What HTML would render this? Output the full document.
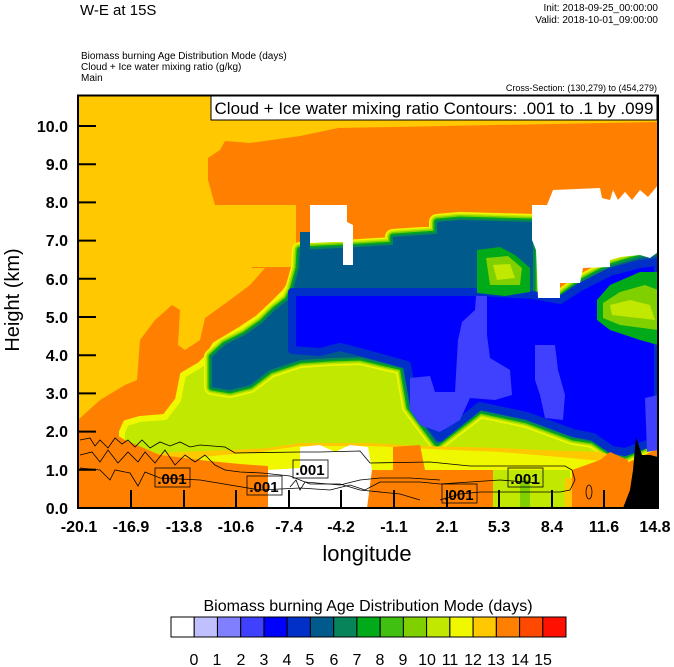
<!DOCTYPE html>
<html><head><meta charset="utf-8"><style>
html,body{margin:0;padding:0;background:#fff;width:674px;height:667px;overflow:hidden}
svg{display:block}
text{font-family:"Liberation Sans",sans-serif}
</style></head><body>
<svg width="674" height="667" viewBox="0 0 674 667">
<text x="80" y="15" font-size="15">W-E at 15S</text>
<text x="658" y="11" font-size="10" text-anchor="end">Init: 2018-09-25_00:00:00</text>
<text x="658" y="23" font-size="10" text-anchor="end">Valid: 2018-10-01_09:00:00</text>
<text x="81" y="59" font-size="10">Biomass burning Age Distribution Mode   (days)</text>
<text x="81" y="70" font-size="10">Cloud + Ice water mixing ratio   (g/kg)</text>
<text x="81" y="81" font-size="10">Main</text>
<text x="657" y="91" font-size="9" text-anchor="end">Cross-Section: (130,279) to (454,279)</text>

<defs>
<clipPath id="pc"><rect x="78" y="95" width="580" height="413"/></clipPath>
<polygon id="T" points="212,387 212,357 225,345 245,335 262,323 275,310 288,300 293,290 299,268 300,250 360,247 393,245 393,237 437,234 437,222 460,220 533,222 533,300 560,298 580,283 610,267 640,258 658,255 658,440 625,455 612,453 593,440 573,437 527,420 480,410 437,443 410,407 403,367 360,357 330,358 300,360 270,370 250,385 230,390"/>
</defs>
<g clip-path="url(#pc)">
<rect x="78" y="95" width="580" height="413" fill="#ffc800"/>
<!-- orange -->
<polygon fill="#ff8000" points="338,128 658,122 658,508 78,508 78,420 100,400 125,385 137,380 140,340 155,320 172,305 180,310 178,345 185,350 200,340 205,318 230,300 250,285 265,268 238,268 238,205 215,205 208,180 208,158 220,150 225,141 250,143 300,136"/>
<polygon fill="#ffc800" points="207,220 238,220 238,205 296,205 296,267 252,267 245,280 225,290 207,290"/>
<!-- lime region -->
<polygon fill="#c0e800" stroke="#f0f800" stroke-width="6" stroke-linejoin="round" points="122,432 126,423 140,419 165,417 178,400 183,375 200,365 208,357 215,345 240,330 258,318 272,305 285,292 293,280 298,267 300,300 640,300 645,445 625,458 600,468 122,468"/>
<!-- teal complex with bands -->
<g stroke-linejoin="round" fill="none">
<use href="#T" stroke="#f0f800" stroke-width="16"/>
<use href="#T" stroke="#c0e800" stroke-width="13"/>
<use href="#T" stroke="#80d000" stroke-width="10"/>
<use href="#T" stroke="#00aa18" stroke-width="7"/>
<use href="#T" stroke="#08845a" stroke-width="4"/>
<use href="#T" fill="#005a8c"/>
</g>
<polygon fill="#005a8c" points="300,232 310,232 310,260 300,262"/>
<!-- dark blue + blue -->
<polygon fill="#0000ff" stroke="#0030c8" stroke-width="8" stroke-linejoin="round" points="292,292 480,292 533,295 560,300 580,287 610,272 640,264 658,262 658,440 625,452 612,450 593,437 573,433 527,416 480,406 440,438 414,405 407,365 360,352 340,347 320,352 292,350"/>
<!-- green patches inside blue -->
<polygon fill="#00aa18" points="477,250 500,247 515,255 530,268 530,292 505,296 477,293"/>
<polygon fill="#80d000" points="486,258 508,256 522,268 520,285 490,285"/>
<polygon fill="#c0e800" points="493,265 510,264 515,278 497,280"/>
<polygon fill="#00aa18" points="597,300 610,285 640,272 658,272 658,345 640,340 610,330 597,320"/>
<polygon fill="#80d000" points="603,303 620,292 645,285 658,290 658,330 620,325 603,318"/>
<polygon fill="#c0e800" points="610,305 630,300 650,305 655,320 612,315"/>
<!-- lavender patches -->
<polygon fill="#4040ff" points="410,378 430,376 435,392 455,392 458,340 462,322 475,310 476,296 487,296 487,335 490,358 510,370 512,395 495,400 470,398 460,420 440,432 420,425 410,410"/>
<polygon fill="#4040ff" points="535,345 555,345 558,370 565,395 563,420 545,418 540,395 535,380"/>
<polygon fill="#4040ff" points="645,398 658,395 658,450 647,452"/>
<!-- whites -->
<polygon fill="#fff" points="310,205 347,205 347,222 353,225 353,265 343,265 343,242 333,242 310,243"/>
<polygon fill="#fff" points="532,205 547,205 553,190 600,188 602,198 610,200 613,190 618,200 625,192 632,200 640,190 648,197 658,185 658,252 650,258 640,255 620,257 610,260 610,267 583,268 580,283 560,283 560,298 538,298 536,250 532,240"/>
<!-- bottom bands -->
<polygon fill="#ffc800" points="120,455 180,452 230,450 268,448 300,443 370,443 420,446 500,448 540,450 600,452 612,455 625,460 625,508 120,508"/>
<polygon fill="#f0f800" points="200,457 260,452 300,446 370,446 430,449 500,452 560,457 610,462 615,508 200,508"/>
<polygon fill="#ff8000" points="78,425 100,425 125,440 160,455 200,460 240,464 268,466 268,508 78,508"/>
<polygon fill="#ff8000" points="393,447 420,445 425,470 493,470 493,508 367,508 367,470 393,470"/>
<polygon fill="#c0e800" points="493,470 570,470 570,508 493,508"/>
<polygon fill="#80d000" points="520,480 530,480 530,508 520,508"/>
<polygon fill="#ffc800" points="565,478 572,478 572,508 565,508"/>
<polygon fill="#ff8000" points="572,470 600,460 610,452 628,460 628,508 572,508"/>
<polygon fill="#fff" points="268,470 300,468 300,447 320,445 335,452 350,445 368,447 372,470 367,508 268,508"/>
<!-- terrain -->
<polygon fill="#000" points="623,508 630,490 633,470 636,437 642,455 650,455 658,457 658,508"/>
<!-- contours -->
<g fill="none" stroke="#000" stroke-width="0.8">
<polyline points="80,440 90,438 95,446 100,440 108,448 115,438 122,444 128,440 135,447 142,440 150,448 160,442 170,446 180,442 190,447 200,445 225,447 235,453 300,452 320,452 360,451 370,463 430,462 470,466 520,466 565,466 572,470 575,480 570,490 560,492 480,492 460,494 440,500"/>
<polyline points="80,455 92,452 100,462 108,450 118,463 128,452 138,462 145,452 155,463 165,450 175,465 185,455 195,462 205,455 215,465 225,470 240,472 262,473 290,476 310,484 340,484 360,490 400,494 420,500"/>
<polyline points="80,468 100,470 110,480 115,470 130,473 138,486 145,472 160,478 200,480 230,485 260,490 300,488 330,490 350,485 365,490 380,482 420,482 440,484 470,482 500,480 540,483"/>
<polyline points="290,487 296,480 300,490 305,482 340,485 360,480 380,478 410,478 440,480"/>
</g>
<ellipse cx="589" cy="492" rx="3" ry="7" fill="none" stroke="#000" stroke-width="0.8"/>
<g font-size="15" font-weight="bold">
<rect x="155" y="468" width="35" height="19" fill="none" stroke="#000" stroke-width="0.8"/><text x="172" y="484" text-anchor="middle">.001</text>
<rect x="247" y="476" width="35" height="19" fill="none" stroke="#000" stroke-width="0.8"/><text x="264" y="492" text-anchor="middle">.001</text>
<rect x="293" y="460" width="35" height="18" fill="none" stroke="#000" stroke-width="0.8"/><text x="310" y="475" text-anchor="middle">.001</text>
<rect x="442" y="484" width="35" height="19" fill="none" stroke="#000" stroke-width="0.8"/><text x="459" y="500" text-anchor="middle">.001</text>
<rect x="508" y="468" width="35" height="19" fill="none" stroke="#000" stroke-width="0.8"/><text x="525" y="484" text-anchor="middle">.001</text>
</g>
</g>
<!-- title box -->
<rect x="211" y="96" width="446" height="24" fill="#fff" stroke="#000" stroke-width="1"/>
<text x="434" y="114" font-size="17" text-anchor="middle">Cloud + Ice water mixing ratio Contours: .001 to .1 by .099</text>
<!-- frame -->
<rect x="78" y="95.5" width="580" height="412.5" fill="none" stroke="#000" stroke-width="2"/>
<g stroke="#000" stroke-width="2">
<line x1="78" y1="126" x2="96" y2="126"/><line x1="78" y1="164.2" x2="96" y2="164.2"/><line x1="78" y1="202.4" x2="96" y2="202.4"/><line x1="78" y1="240.6" x2="96" y2="240.6"/><line x1="78" y1="278.8" x2="96" y2="278.8"/><line x1="78" y1="317" x2="96" y2="317"/><line x1="78" y1="355.2" x2="96" y2="355.2"/><line x1="78" y1="393.4" x2="96" y2="393.4"/><line x1="78" y1="431.6" x2="96" y2="431.6"/><line x1="78" y1="469.8" x2="96" y2="469.8"/>
<line x1="131" y1="508" x2="131" y2="490"/><line x1="184" y1="508" x2="184" y2="490"/><line x1="236" y1="508" x2="236" y2="490"/><line x1="289" y1="508" x2="289" y2="490"/><line x1="341" y1="508" x2="341" y2="490"/><line x1="394" y1="508" x2="394" y2="490"/><line x1="447" y1="508" x2="447" y2="490"/><line x1="499" y1="508" x2="499" y2="490"/><line x1="552" y1="508" x2="552" y2="490"/><line x1="604" y1="508" x2="604" y2="490"/>
</g>
<g font-size="16" font-weight="bold" text-anchor="end">
<text x="68" y="132">10.0</text><text x="68" y="170">9.0</text><text x="68" y="208">8.0</text><text x="68" y="246">7.0</text><text x="68" y="285">6.0</text><text x="68" y="323">5.0</text><text x="68" y="361">4.0</text><text x="68" y="399">3.0</text><text x="68" y="437">2.0</text><text x="68" y="476">1.0</text><text x="68" y="514">0.0</text>
</g>
<g font-size="16" font-weight="bold" text-anchor="middle">
<text x="79" y="532">-20.1</text><text x="131" y="532">-16.9</text><text x="184" y="532">-13.8</text><text x="236" y="532">-10.6</text><text x="289" y="532">-7.4</text><text x="341" y="532">-4.2</text><text x="394" y="532">-1.1</text><text x="447" y="532">2.1</text><text x="499" y="532">5.3</text><text x="552" y="532">8.4</text><text x="604" y="532">11.6</text><text x="655" y="532">14.8</text>
</g>
<text x="367" y="561" font-size="22" text-anchor="middle">longitude</text>
<text transform="translate(19,300) rotate(-90)" font-size="20" text-anchor="middle">Height (km)</text>
<!-- colorbar -->
<text x="368" y="611" font-size="16" text-anchor="middle">Biomass burning Age Distribution Mode  (days)</text>
<g stroke="#000" stroke-width="1">
<rect x="171" y="617" width="23.2" height="20" fill="#fff"/>
<rect x="194.2" y="617" width="23.2" height="20" fill="#c0c0ff"/>
<rect x="217.5" y="617" width="23.2" height="20" fill="#8080ff"/>
<rect x="240.7" y="617" width="23.2" height="20" fill="#4040ff"/>
<rect x="264" y="617" width="23.2" height="20" fill="#0000ff"/>
<rect x="287.2" y="617" width="23.2" height="20" fill="#0030c8"/>
<rect x="310.4" y="617" width="23.2" height="20" fill="#005a8c"/>
<rect x="333.7" y="617" width="23.2" height="20" fill="#08845a"/>
<rect x="356.9" y="617" width="23.2" height="20" fill="#00aa18"/>
<rect x="380.2" y="617" width="23.2" height="20" fill="#40c010"/>
<rect x="403.4" y="617" width="23.2" height="20" fill="#80d000"/>
<rect x="426.6" y="617" width="23.2" height="20" fill="#c0e800"/>
<rect x="449.9" y="617" width="23.2" height="20" fill="#f0f800"/>
<rect x="473.1" y="617" width="23.2" height="20" fill="#ffc800"/>
<rect x="496.4" y="617" width="23.2" height="20" fill="#ff8000"/>
<rect x="519.6" y="617" width="23.2" height="20" fill="#ff4800"/>
<rect x="542.8" y="617" width="23.2" height="20" fill="#ff1000"/>
</g>
<g font-size="16" text-anchor="middle">
<text x="194" y="665">0</text><text x="217" y="665">1</text><text x="241" y="665">2</text><text x="264" y="665">3</text><text x="287" y="665">4</text><text x="310" y="665">5</text><text x="334" y="665">6</text><text x="357" y="665">7</text><text x="380" y="665">8</text><text x="403" y="665">9</text><text x="427" y="665">10</text><text x="450" y="665">11</text><text x="473" y="665">12</text><text x="496" y="665">13</text><text x="520" y="665">14</text><text x="543" y="665">15</text>
</g>
</svg>
</body></html>
